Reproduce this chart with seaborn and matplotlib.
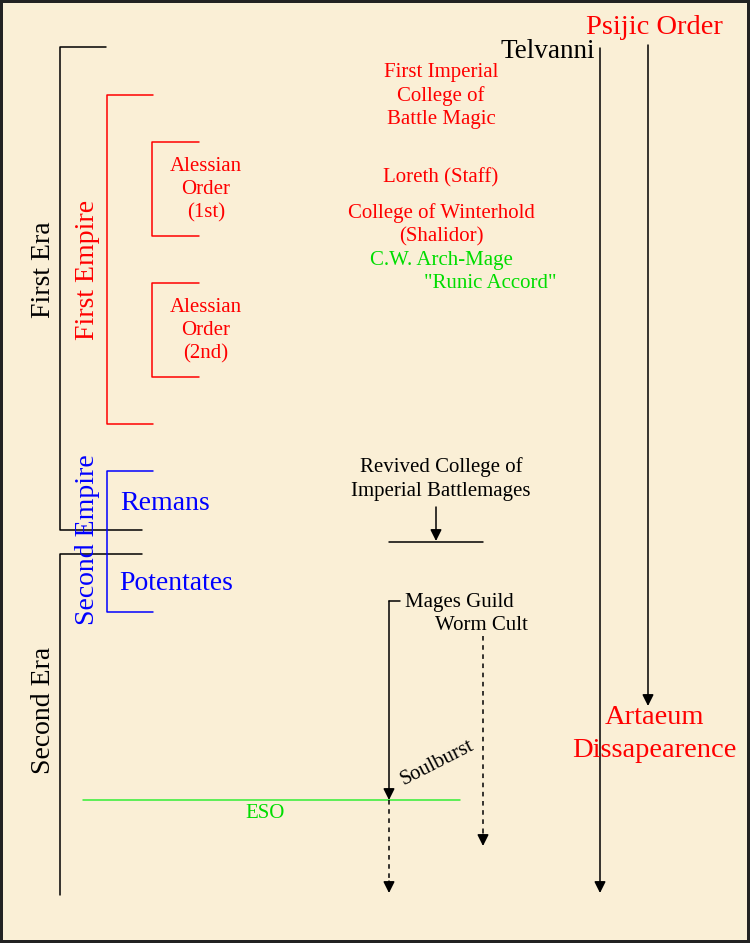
import pandas as pd
import seaborn as sns
import matplotlib.pyplot as plt

# Brackets / plain lines of the timeline (pixel coordinates, y down)
seg_names = ['first_era', 'second_era', 'first_empire', 'alessian_1', 'alessian_2',
             'second_empire', 'revived_base', 'eso', 'mages_stub']
seg_x = [[106, 60, 60, 142], [142, 60, 60], [153, 107, 107, 153], [199, 152, 152, 199],
         [199, 152, 152, 199], [153, 107, 107, 153], [389, 483], [83, 460], [400, 389]]
seg_y = [[47, 47, 530, 530], [554, 554, 895], [95, 95, 424, 424], [142, 142, 236, 236],
         [283, 283, 377, 377], [471, 471, 612, 612], [542, 542], [800, 800], [601, 601]]
seg_color = ['black', 'black', 'red', 'red', 'red', 'blue', 'black', '#33ee33', 'black']

# Arrows: start, end, dashed?
arrow_x0 = [600, 648, 436, 389, 389, 483]
arrow_y0 = [48, 45, 507, 601, 800, 636]
arrow_x1 = [600, 648, 436, 389, 389, 483]
arrow_y1 = [893, 706, 541, 800, 893, 846]
arrow_dashed = [False, False, False, False, True, True]

# Labels
labels = ['Psijic Order', 'Telvanni', 'First Imperial\nCollege of\nBattle Magic', 'Loreth (Staff)',
          'College of Winterhold\n(Shalidor)', 'C.W. Arch-Mage', '"Runic Accord"',
          'Alessian\nOrder\n(1st)', 'Alessian\nOrder\n(2nd)', 'First Era', 'First Empire',
          'Second Era', 'Second Empire', 'Remans', 'Potentates',
          'Revived College of\nImperial Battlemages', 'Mages Guild', 'Worm Cult', 'Soulburst',
          'ESO', 'Artaeum\nDissapearence']
label_x = [654, 595, 441, 441, 441, 441, 490, 206, 206, 43, 87, 43, 88, 165, 176, 441, 405, 481, 437, 265, 654]
label_y = [27, 52, 96, 178, 225, 260, 284, 190, 331, 270, 270, 710, 540, 503, 584, 479, 602, 625, 763, 814, 734]
label_color = ['red', 'black', 'red', 'red', 'red', '#00dd00', '#00dd00', 'red', 'red', 'black', 'red',
               'black', 'blue', 'blue', 'blue', 'black', 'black', 'black', 'black', '#00dd00', 'red']
label_size = [20.5, 19.5, 15, 15, 15, 15, 15, 15, 15, 20, 20, 20, 20, 20, 20, 15, 15, 15, 15, 15, 20.5]
label_rot = [0, 0, 0, 0, 0, 0, 0, 0, 0, 90, 90, 90, 90, 0, 0, 0, 0, 0, 27, 0, 0]
label_ha = ['center', 'right', 'center', 'center', 'center', 'center', 'center', 'center', 'center',
            'center', 'center', 'center', 'center', 'center', 'center', 'center', 'left', 'center',
            'center', 'center', 'center']

sns.set_theme(style='white')
plt.rcParams['font.family'] = ['Liberation Serif', 'DejaVu Serif']

bg = '#faefd6'
fig = plt.figure(figsize=(7.5, 9.43), dpi=100, facecolor=bg, edgecolor='#222222', linewidth=3)
ax = fig.add_axes([0, 0, 1, 1])
ax.set_facecolor(bg)

rows = []
for name, xs, ys in zip(seg_names, seg_x, seg_y):
    for i, (x, y) in enumerate(zip(xs, ys)):
        rows.append({'seg': name, 'order': i, 'x': x, 'y': y})
df = pd.DataFrame(rows)
sns.lineplot(data=df, x='x', y='y', hue='seg', units='seg', estimator=None, sort=False,
             palette=dict(zip(seg_names, seg_color)), linewidth=1.1, legend=False, ax=ax)

for x0, y0, x1, y1, dashed in zip(arrow_x0, arrow_y0, arrow_x1, arrow_y1, arrow_dashed):
    if dashed:
        ax.plot([x0, x1], [y0, y1 - 4], color='black', lw=1.1, ls=(0, (3, 3)))
        ax.annotate('', xy=(x1, y1), xytext=(x1, y1 - 12),
                    arrowprops=dict(arrowstyle='-|>', color='black', lw=1.1, mutation_scale=17,
                                    shrinkA=0, shrinkB=0))
    else:
        ax.annotate('', xy=(x1, y1), xytext=(x0, y0),
                    arrowprops=dict(arrowstyle='-|>', color='black', lw=1.1, mutation_scale=17,
                                    shrinkA=0, shrinkB=0))

for t, x, y, c, s, r, ha in zip(labels, label_x, label_y, label_color, label_size, label_rot, label_ha):
    ls = 1.45 if s > 18 else 1.3
    ax.text(x, y, t, color=c, fontsize=s, rotation=r, ha=ha, va='center',
            multialignment='center', linespacing=ls, rotation_mode='anchor')

ax.set_xlim(0, 750)
ax.set_ylim(943, 0)
ax.set_axis_off()

plt.savefig('out.png', dpi=100, facecolor=bg)
